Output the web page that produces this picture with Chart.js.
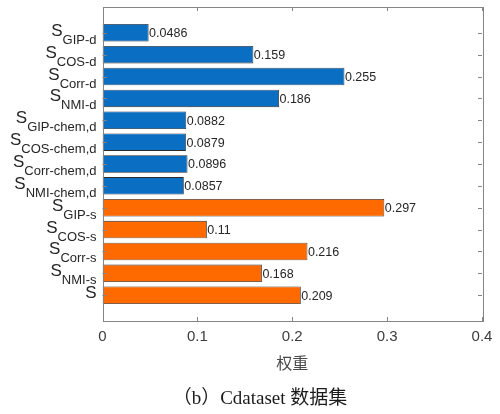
<!DOCTYPE html>
<html>
<head>
<meta charset="utf-8">
<script src="https://cdn.jsdelivr.net/npm/chart.js@4/dist/chart.umd.min.js"></script>
<style>
  html, body { margin: 0; padding: 0; background: #fff; }
  #wrap { width: 500px; height: 414px; }
</style>
</head>
<body>
<div id="wrap"><canvas id="c" width="500" height="414"></canvas></div>
<script>
// Similarity components (label = "S" + subscript) and their weights
const labelBase = ['S','S','S','S','S','S','S','S','S','S','S','S','S'];
const labelSub = ['GIP-d','COS-d','Corr-d','NMI-d','GIP-chem,d','COS-chem,d','Corr-chem,d','NMI-chem,d','GIP-s','COS-s','Corr-s','NMI-s',''];
const weights = [0.0486, 0.159, 0.255, 0.186, 0.0882, 0.0879, 0.0896, 0.0857, 0.297, 0.11, 0.216, 0.168, 0.209];
const group = ['d','d','d','d','d','d','d','d','s','s','s','s','s'];
const xTicks = [0, 0.1, 0.2, 0.3, 0.4];
const xTickLabels = ['0', '0.1', '0.2', '0.3', '0.4'];
const xTitle = '权重';
const caption = '（b）Cdataset 数据集';

const groupColor = { d: '#0a6fc2', s: '#ff6a00' };
const SANS = '"Liberation Sans", Arial, sans-serif';

const decorations = {
  id: 'decorations',
  afterDatasetsDraw(chart) {
    const { ctx, chartArea: a, scales: { x, y } } = chart;
    ctx.save();

    // value labels at the bar ends
    ctx.fillStyle = '#262626';
    ctx.font = '12.5px ' + SANS;
    ctx.textAlign = 'left';
    ctx.textBaseline = 'middle';
    weights.forEach((v, i) => {
      ctx.fillText(String(v), x.getPixelForValue(v) + 0.5, y.getPixelForValue(i + 1) + 1);
    });

    // axes box
    ctx.strokeStyle = '#858585';
    ctx.lineWidth = 1;
    ctx.strokeRect(Math.round(a.left) + 0.5, Math.round(a.top) + 0.5,
                   Math.round(a.right - a.left), Math.round(a.bottom - a.top));

    // inward tick marks
    ctx.beginPath();
    xTicks.forEach(t => {
      const px = Math.round(x.getPixelForValue(t)) + 0.5;
      ctx.moveTo(px, a.bottom); ctx.lineTo(px, a.bottom - 4);
      ctx.moveTo(px, a.top); ctx.lineTo(px, a.top + 4);
    });
    weights.forEach((_, i) => {
      const py = Math.round(y.getPixelForValue(i + 1)) + 0.5;
      ctx.moveTo(a.left, py); ctx.lineTo(a.left + 4, py);
      ctx.moveTo(a.right, py); ctx.lineTo(a.right - 4, py);
    });
    ctx.stroke();

    // x tick labels
    ctx.fillStyle = '#3c3c3c';
    ctx.font = '15px ' + SANS;
    ctx.textAlign = 'center';
    ctx.textBaseline = 'middle';
    xTicks.forEach((t, i) => {
      ctx.fillText(xTickLabels[i], x.getPixelForValue(t), a.bottom + 16);
    });

    // x axis title
    ctx.font = '16px "Noto Sans CJK SC", sans-serif';
    ctx.fillStyle = '#4a4a4a';
    ctx.fillText(xTitle, (a.left + a.right) / 2, a.bottom + 42);

    // category labels with subscripts, right aligned
    ctx.textBaseline = 'alphabetic';
    ctx.textAlign = 'left';
    ctx.fillStyle = '#262626';
    labelBase.forEach((base, i) => {
      const cy = y.getPixelForValue(i + 1);
      const right = a.left - 6;
      ctx.font = '13px ' + SANS;
      const subW = labelSub[i] ? ctx.measureText(labelSub[i]).width : 0;
      ctx.font = '17px ' + SANS;
      const baseW = ctx.measureText(base).width;
      const start = right - subW - baseW;
      ctx.fillText(base, start, cy + 3);
      if (labelSub[i]) {
        ctx.font = '13px ' + SANS;
        ctx.fillText(labelSub[i], start + baseW, cy + 11);
      }
    });

    // caption
    ctx.textAlign = 'center';
    ctx.textBaseline = 'alphabetic';
    ctx.fillStyle = '#1a1a1a';
    ctx.font = '19px "Liberation Serif", "Noto Sans CJK SC", serif';
    ctx.fillText(caption, 260, 404);

    ctx.restore();
  }
};

new Chart(document.getElementById('c'), {
  type: 'bar',
  data: {
    datasets: [{
      data: weights.map((v, i) => ({ x: v, y: i + 1 })),
      backgroundColor: group.map(g => groupColor[g]),
      borderColor: '#2a2a2a',
      borderWidth: 0.8,
      barPercentage: 0.8,
      categoryPercentage: 1.0
    }]
  },
  options: {
    indexAxis: 'y',
    responsive: false,
    animation: false,
    events: [],
    layout: { padding: { left: 102.5, right: 18, top: 7, bottom: 93 } },
    plugins: { legend: { display: false }, tooltip: { enabled: false } },
    scales: {
      x: { type: 'linear', min: 0, max: 0.4, display: false },
      y: {
        type: 'linear', min: -0.18, max: 14.18, reverse: true, display: false, offset: false,
        afterBuildTicks: (scale) => { scale.ticks = weights.map((_, i) => ({ value: i + 1 })); }
      }
    }
  },
  plugins: [decorations]
});
</script>
</body>
</html>
